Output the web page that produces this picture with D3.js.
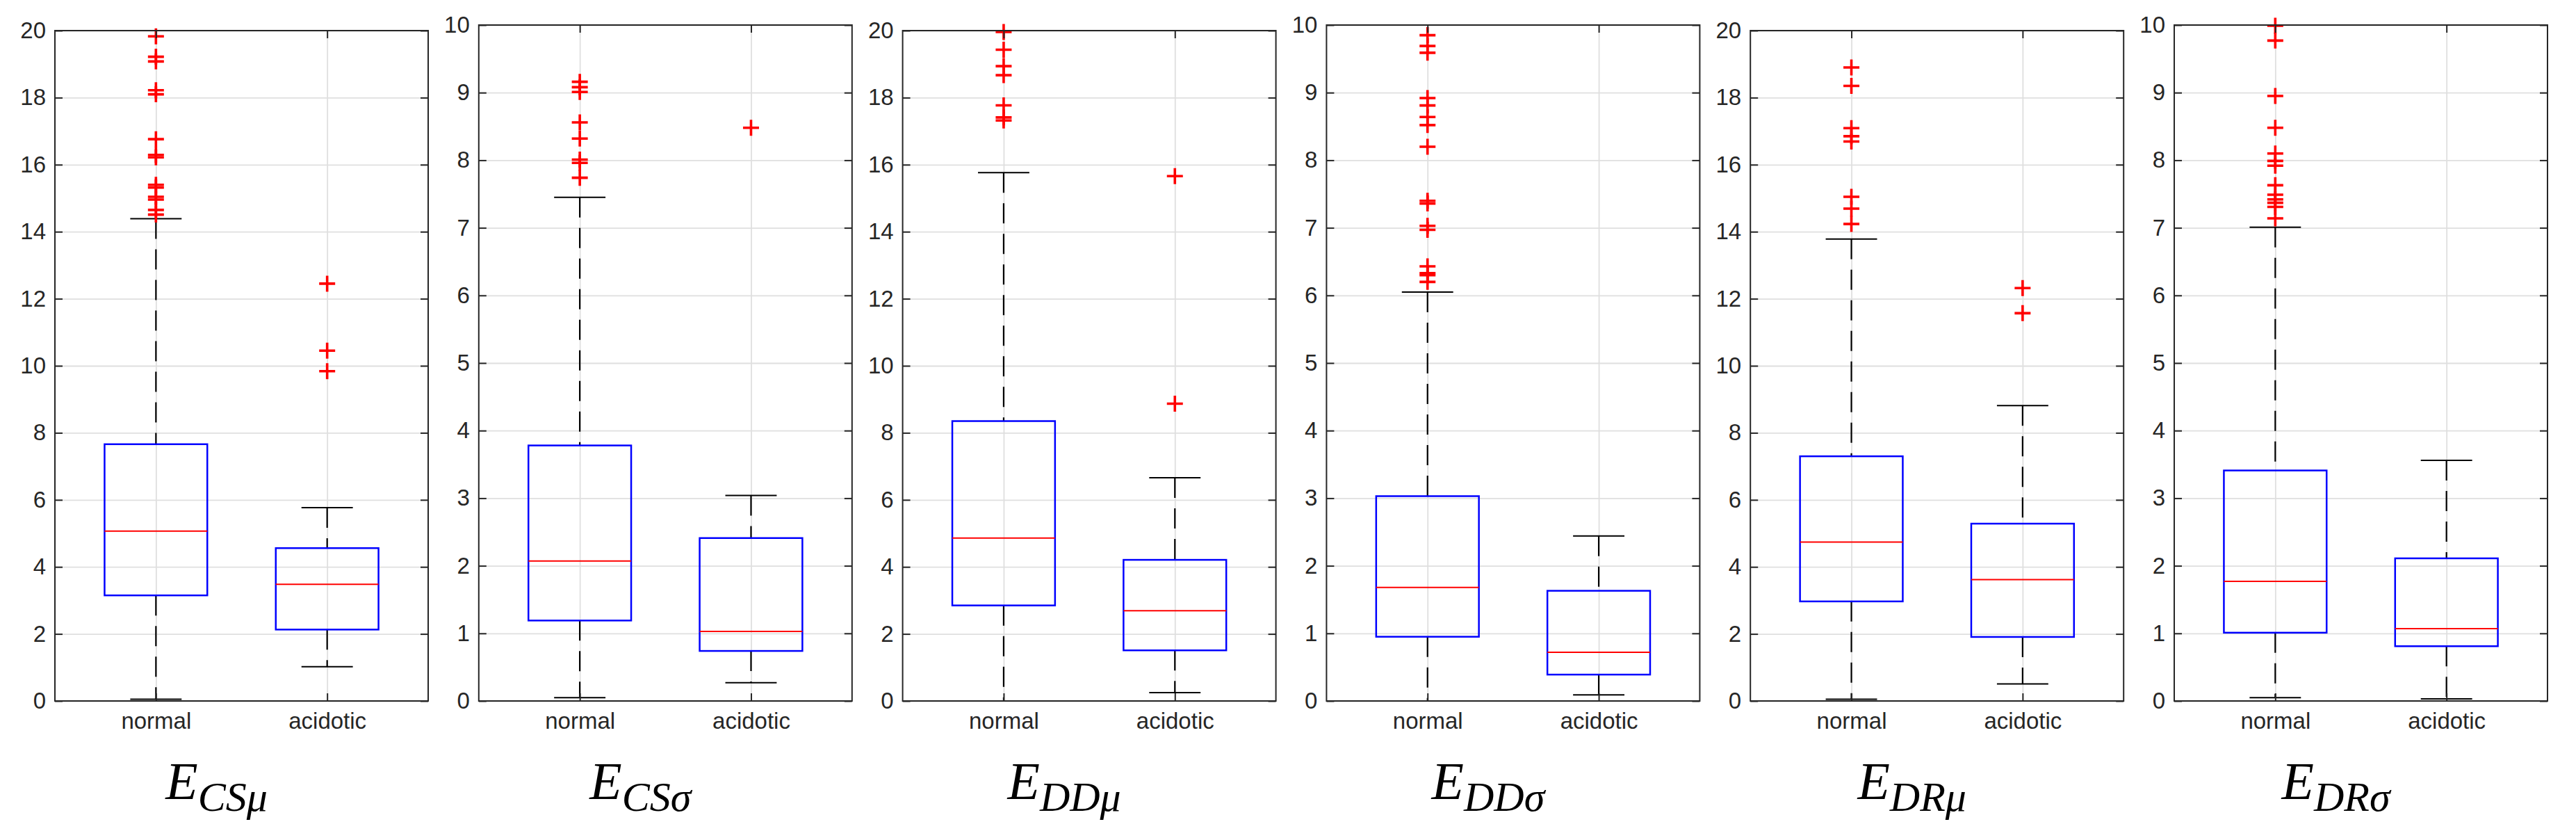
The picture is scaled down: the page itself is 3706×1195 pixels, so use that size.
<!DOCTYPE html>
<html>
<head>
<meta charset="utf-8">
<script src="https://cdn.jsdelivr.net/npm/d3@7/dist/d3.min.js"></script>
<style>
    body { margin: 0; background: #fff; }
    svg { display: block; }
</style>
</head>
<body>
<div id="chart"></div>
<script>
// categories and panel labels
const groups = ['normal', 'acidotic'];
const subscripts = ['CSμ', 'CSσ', 'DDμ', 'DDσ', 'DRμ', 'DRσ'];
const yMaxes = [20, 10, 20, 10, 20, 10];
const ticks20 = [0, 2, 4, 6, 8, 10, 12, 14, 16, 18, 20];
const ticks10 = [0, 1, 2, 3, 4, 5, 6, 7, 8, 9, 10];

// [lower whisker, Q1, median, Q3, upper whisker] -> normal, acidotic
const ecsMu = [[0.05, 3.15, 5.07, 7.66, 14.39], [1.02, 2.13, 3.48, 4.56, 5.77]];
const ecsSigma = [[0.05, 1.19, 2.07, 3.78, 7.45], [0.27, 0.74, 1.03, 2.41, 3.04]];
const eddMu = [[0.0, 2.85, 4.86, 8.35, 15.76], [0.25, 1.51, 2.69, 4.21, 6.66]];
const eddSigma = [[0.0, 0.95, 1.68, 3.03, 6.05], [0.09, 0.39, 0.72, 1.63, 2.44]];
const edrMu = [[0.05, 2.97, 4.74, 7.30, 13.78], [0.51, 1.91, 3.62, 5.29, 8.81]];
const edrSigma = [[0.05, 1.01, 1.77, 3.41, 7.01], [0.03, 0.81, 1.07, 2.11, 3.56]];

// outliers -> normal, acidotic
const ecsMuOut = [[19.83, 19.22, 19.08, 18.22, 18.10, 16.76, 16.29, 16.22, 15.40, 15.32, 15.04, 14.96, 14.65, 14.51], [12.45, 10.45, 9.84]];
const ecsSigmaOut = [[9.16, 9.08, 9.01, 8.56, 8.32, 8.01, 7.96, 7.74], [8.48]];
const eddMuOut = [[19.96, 19.43, 18.94, 18.67, 17.77, 17.41, 17.32], [15.66, 8.87]];
const eddSigmaOut = [[9.85, 9.69, 9.59, 8.92, 8.81, 8.64, 8.52, 8.20, 7.40, 7.36, 7.03, 6.97, 6.43, 6.33, 6.30, 6.20], []];
const edrMuOut = [[18.90, 18.35, 17.09, 16.85, 16.69, 15.04, 14.69, 14.23], [12.32, 11.57]];
const edrSigmaOut = [[9.99, 9.77, 8.95, 8.48, 8.10, 7.99, 7.92, 7.63, 7.49, 7.42, 7.37, 7.31, 7.14], []];

const statsList = [ecsMu, ecsSigma, eddMu, eddSigma, edrMu, edrSigma];
const outList = [ecsMuOut, ecsSigmaOut, eddMuOut, eddSigmaOut, edrMuOut, edrSigmaOut];

const W = 3706, H = 1195;
const panelLeft0 = 79, panelStep = 609.8, panelW = 537, plotBottom = 1008;
const axisColor = '#262626';
const gridColor = '#dfdfdf';
const tickFont = '"Liberation Sans", Arial, Helvetica, sans-serif';

const svg = d3.select('#chart').append('svg')
    .attr('width', W)
    .attr('height', H);

statsList.forEach((stats, i) => {
    const yMax = yMaxes[i];
    const left = panelLeft0 + i * panelStep;
    const right = left + panelW;
    const top = yMax === 20 ? 44 : 36;
    const h = plotBottom - top;
    const ticks = yMax === 20 ? ticks20 : ticks10;

    const x = d3.scalePoint().domain(groups).range([left, right]).padding(0.59);
    const y = d3.scaleLinear().domain([0, yMax]).range([plotBottom, top]);
    const step = x.step();

    const g = svg.append('g').attr('class', 'panel');

    // 网格
    g.append('g')
        .attr('transform', `translate(${left},0)`)
        .call(d3.axisLeft(y).tickValues(ticks).tickSize(-panelW).tickFormat(''))
        .call(a => a.select('.domain').remove())
        .selectAll('line').attr('stroke', gridColor).attr('stroke-width', 1.8);
    g.append('g')
        .attr('transform', `translate(0,${plotBottom})`)
        .call(d3.axisBottom(x).tickSize(-h).tickFormat(''))
        .call(a => a.select('.domain').remove())
        .selectAll('line').attr('stroke', gridColor).attr('stroke-width', 1.8);

    // 箱线
    const box = g.selectAll('.box')
        .data(groups.map((name, k) => ({ name, s: stats[k], out: outList[i][k] })))
        .enter()
        .append('g')
        .attr('class', 'box');

    // whiskers (dashed)
    box.append('line')
        .attr('x1', d => x(d.name)).attr('x2', d => x(d.name))
        .attr('y1', d => y(d.s[4])).attr('y2', d => y(d.s[3]))
        .attr('stroke', '#000').attr('stroke-width', 2.2)
        .attr('stroke-dasharray', '29,15');
    box.append('line')
        .attr('x1', d => x(d.name)).attr('x2', d => x(d.name))
        .attr('y1', d => y(d.s[1])).attr('y2', d => y(d.s[0]))
        .attr('stroke', '#000').attr('stroke-width', 2.2)
        .attr('stroke-dasharray', '29,15');

    // caps
    [0, 4].forEach(idx => {
        box.append('line')
            .attr('x1', d => x(d.name) - step * 0.15)
            .attr('x2', d => x(d.name) + step * 0.15)
            .attr('y1', d => y(d.s[idx])).attr('y2', d => y(d.s[idx]))
            .attr('stroke', '#000').attr('stroke-width', 2);
    });

    box.append('rect')
        .attr('x', d => x(d.name) - step * 0.3)
        .attr('width', step * 0.6)
        .attr('y', d => y(d.s[3]))
        .attr('height', d => y(d.s[1]) - y(d.s[3]))
        .attr('fill', 'none')
        .attr('stroke', '#0000ff')
        .attr('stroke-width', 2.5);

    box.append('line')
        .attr('x1', d => x(d.name) - step * 0.3)
        .attr('x2', d => x(d.name) + step * 0.3)
        .attr('y1', d => y(d.s[2])).attr('y2', d => y(d.s[2]))
        .attr('stroke', '#ff0000').attr('stroke-width', 2);

    // outliers '+'
    box.each(function(d) {
        d3.select(this).selectAll('.outlier')
            .data(d.out)
            .enter()
            .append('path')
            .attr('class', 'outlier')
            .attr('d', v => {
                const cx = x(d.name), cy = y(v), r = 11.5;
                return `M${cx - r},${cy}H${cx + r}M${cx},${cy - r}V${cy + r}`;
            })
            .attr('stroke', '#ff0000')
            .attr('stroke-width', 3.6)
            .attr('fill', 'none');
    });

    // 坐标轴
    const yAxis = g.append('g')
        .attr('transform', `translate(${left},0)`)
        .call(d3.axisLeft(y).tickValues(ticks).tickSizeInner(-11).tickSizeOuter(0).tickPadding(13));
    const xAxis = g.append('g')
        .attr('transform', `translate(0,${plotBottom})`)
        .call(d3.axisBottom(x).tickSizeInner(-11).tickSizeOuter(0).tickPadding(17));
    g.append('g')
        .attr('transform', `translate(${right},0)`)
        .call(d3.axisRight(y).tickValues(ticks).tickSizeInner(-11).tickSizeOuter(0).tickFormat(''));
    g.append('g')
        .attr('transform', `translate(0,${top})`)
        .call(d3.axisTop(x).tickSizeInner(-11).tickSizeOuter(0).tickFormat(''));

    g.selectAll('.domain').remove();
    g.selectAll('.tick line').filter(function() {
        return d3.select(this).attr('stroke') !== gridColor;
    }).attr('stroke', axisColor).attr('stroke-width', 2);

    [yAxis, xAxis].forEach(a => a.selectAll('text')
        .attr('fill', axisColor)
        .style('font-family', tickFont)
        .style('font-size', '33px'));

    g.append('rect')
        .attr('x', left).attr('y', top)
        .attr('width', panelW).attr('height', h)
        .attr('fill', 'none')
        .attr('stroke', axisColor)
        .attr('stroke-width', 2);

    // 标题 E_{sub}
    const title = g.append('text')
        .attr('x', (left + right) / 2 - 36)
        .attr('y', 1149)
        .attr('text-anchor', 'middle')
        .style('font-family', '"Liberation Serif", "Times New Roman", serif')
        .style('font-style', 'italic')
        .attr('fill', '#000');
    title.append('tspan').style('font-size', '76px').text('E');
    title.append('tspan').style('font-size', '60px').attr('dy', 17).text(subscripts[i]);
});
</script>
</body>
</html>
